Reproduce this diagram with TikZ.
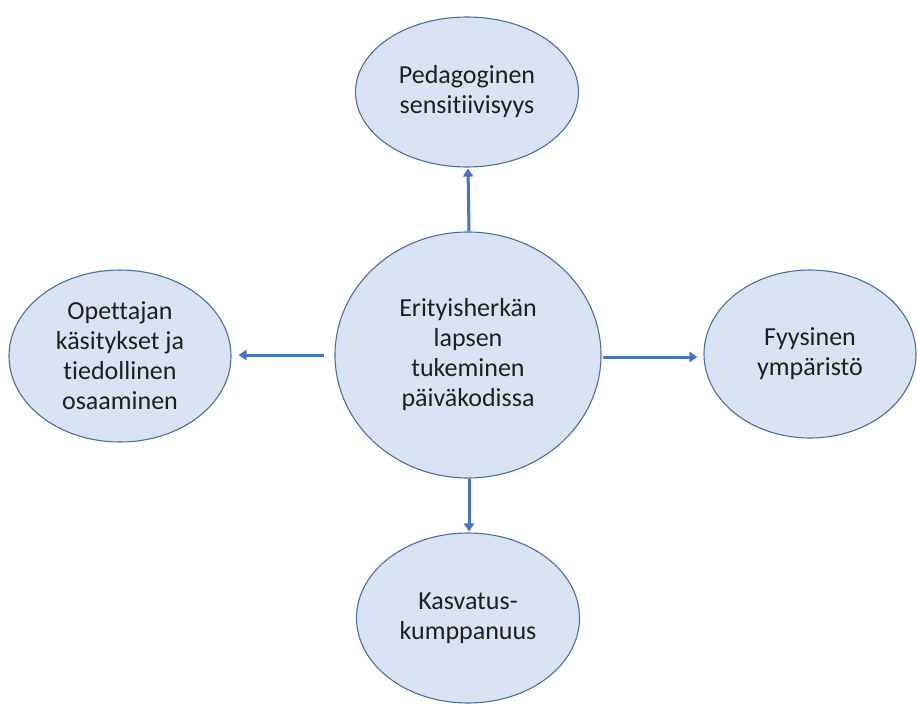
\documentclass[tikz,border=0pt]{standalone}
\usepackage{fontspec}
\setmainfont{Carlito}[Ligatures=NoCommon]
\usetikzlibrary{shapes.geometric,arrows.meta}
\definecolor{fillb}{HTML}{DAE3F3}
\definecolor{edgeb}{HTML}{4A6FA5}
\definecolor{arrb}{HTML}{4472C4}
\begin{document}
\begin{tikzpicture}[x=1pt,y=-1pt,
  bub/.style={ellipse,draw=edgeb,line width=1.1pt,fill=fillb,inner sep=0pt,
    align=center,font=\fontsize{26}{30}\selectfont,text=black!88},
  arr/.style={draw=arrb,line width=3pt,-{Triangle[length=8pt,width=10pt]}}]
\useasboundingbox (0,0) rectangle (917,704);
\node[bub,minimum width=223pt,minimum height=150pt] (t) at (467,92) {Pedagoginen\\sensitiivisyys};
\node[bub,minimum width=266pt,minimum height=246pt] (c) at (468,355) {Erityisherkän\\lapsen\\tukeminen\\päiväkodissa};
\node[bub,minimum width=222pt,minimum height=172pt] (l) at (120,356) {Opettajan\\käsitykset ja\\tiedollinen\\osaaminen};
\node[bub,minimum width=212pt,minimum height=168pt] (r) at (810,354) {Fyysinen\\ympäristö};
\node[bub,minimum width=223pt,minimum height=170pt] (b) at (468,618) {Kasvatus-\\kumppanuus};
\draw[arr,shorten >=1pt] ([xshift=1pt]c.north) -- ([xshift=1pt]t.south);
\draw[arr,shorten >=1pt] ([xshift=1pt]c.south) -- ([xshift=1pt]b.north);
\draw[arr,shorten <=10pt,shorten >=7pt] (c.west) -- (c.west -| l.east);
\draw[arr,shorten <=1pt,shorten >=6pt] ([yshift=-2pt]c.east) -- ([yshift=-2pt]c.east -| r.west);
\end{tikzpicture}
\end{document}
